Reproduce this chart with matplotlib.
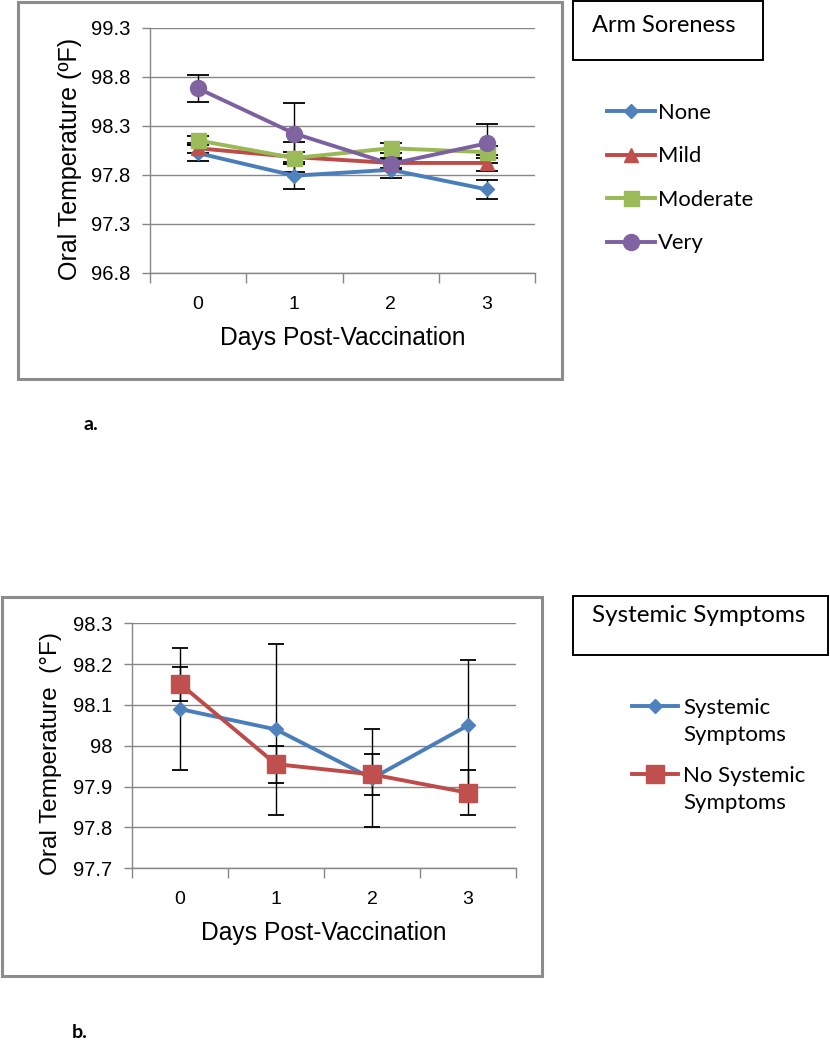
import matplotlib
matplotlib.use('Agg')
import matplotlib.pyplot as plt
from matplotlib.patches import Rectangle

# data
days = [0, 1, 2, 3]

# a. arm soreness groups
none_temp = [98.02, 97.79, 97.85, 97.65]
none_err = [0.08, 0.14, 0.08, 0.095]
mild_temp = [98.07, 97.98, 97.92, 97.92]
mild_err = [0.05, 0.15, 0.05, 0.08]
moderate_temp = [98.15, 97.97, 98.07, 98.03]
moderate_err = [0.05, 0.06, 0.05, 0.06]
very_temp = [98.68, 98.22, 97.91, 98.12]
very_err = [0.14, 0.31, 0.05, 0.20]

# b. systemic symptoms
sys_temp = [98.09, 98.04, 97.92, 98.05]
sys_err = [0.15, 0.21, 0.12, 0.16]
nosys_temp = [98.152, 97.955, 97.93, 97.885]
nosys_err = [0.042, 0.045, 0.05, 0.055]

top_yticks = [96.8, 97.3, 97.8, 98.3, 98.8, 99.3]
top_ylabels = ['96.8', '97.3', '97.8', '98.3', '98.8', '99.3']
bot_yticks = [97.7, 97.8, 97.9, 98.0, 98.1, 98.2, 98.3]
bot_ylabels = ['97.7', '97.8', '97.9', '98', '98.1', '98.2', '98.3']

W, H = 830, 1050
fig = plt.figure(figsize=(W / 100, H / 100), dpi=100)
fig.patch.set_facecolor('white')

AX_FONT = 'Liberation Sans'
LEG_FONT = 'Lato'
GRID = '#868686'


def fx(px):
    return px / W


def fy(py):
    return 1 - py / H


def frame(x0, y0, x1, y1, color, lw):
    fig.patches.append(Rectangle((fx(x0), fy(y1)), fx(x1) - fx(x0), fy(y0) - fy(y1),
                                 transform=fig.transFigure, fill=False,
                                 edgecolor=color, linewidth=lw, zorder=0))


def style_axes(ax, yticks, ylabels, xpad):
    ax.set_xlim(-0.5, 3.5)
    ax.set_ylim(yticks[0], yticks[-1])
    ax.set_yticks(yticks)
    ax.set_yticklabels(ylabels, fontsize=14.5, family=AX_FONT)
    ax.set_xticks(days)
    ax.set_xticklabels([str(d) for d in days], fontsize=14, family=AX_FONT)
    ax.set_xticks([-0.5, 0.5, 1.5, 2.5, 3.5], minor=True)
    ax.tick_params(axis='x', which='major', length=0, pad=xpad)
    ax.tick_params(axis='x', which='minor', length=7, color=GRID, width=1)
    ax.tick_params(axis='y', length=6, color=GRID, width=1, pad=8)
    for s in ['top', 'right']:
        ax.spines[s].set_visible(False)
    for s in ['left', 'bottom']:
        ax.spines[s].set_color(GRID)
        ax.spines[s].set_linewidth(1)
    ax.yaxis.grid(True, color=GRID, linewidth=1)
    ax.set_axisbelow(True)
    ax.set_xlabel('Days Post-Vaccination', fontsize=17.7, family=AX_FONT)


# ---------- a. ----------
frame(18, 2, 562, 379, '#8c8c8c', 2.2)
ax1 = fig.add_axes([fx(150), fy(272.7), fx(385), 245 / H])

series_a = [
    ('None', none_temp, none_err, '#4A7EBB', '#4F81BD', 'D', 7.6),
    ('Mild', mild_temp, mild_err, '#BE4B48', '#C0504D', '^', 10),
    ('Moderate', moderate_temp, moderate_err, '#98B954', '#9BBB59', 's', 10.8),
    ('Very', very_temp, very_err, '#7D60A0', '#8064A2', 'o', 11.5),
]
handles_a = []
for name, temp, err, lc, mc, mk, ms in series_a:
    ax1.errorbar(days, temp, yerr=err, fmt='none', ecolor='black', elinewidth=1,
                 capsize=8, capthick=1.3, zorder=2)
    ln, = ax1.plot(days, temp, color=lc, lw=2.8, marker=mk, markersize=ms,
                   markerfacecolor=mc, markeredgecolor=mc, label=name, zorder=3)
    handles_a.append(ln)

style_axes(ax1, top_yticks, top_ylabels, 17)
ax1.set_ylabel('Oral Temperature (ºF)', fontsize=18, family=AX_FONT)
ax1.yaxis.set_label_coords(-0.177, 0.464)
ax1.xaxis.set_label_coords(0.5, -0.218)

frame(573, 1, 763, 60, 'black', 1.4)
fig.text(fx(592), fy(26), 'Arm Soreness', fontsize=17, family=LEG_FONT,
         va='center', ha='left')
ax1.legend(handles=handles_a, loc='upper left', bbox_to_anchor=(fx(607), fy(103)),
           bbox_transform=fig.transFigure, frameon=False, prop={'family': LEG_FONT, 'size': 15.8},
           handlelength=2.19, handletextpad=0.14, labelspacing=1.07, borderpad=0,
           borderaxespad=0)

fig.text(fx(83), fy(425), 'a.', fontsize=14, family=LEG_FONT, fontweight='bold',
         va='center', ha='left')

# ---------- b. ----------
frame(2, 597, 542, 976, '#8c8c8c', 2.2)
ax2 = fig.add_axes([fx(132), fy(868.3), fx(384), 245 / H])

series_b = [
    ('Systemic', 'Symptoms', sys_temp, sys_err, '#4A7EBB', '#4F81BD', 'D', 7.6),
    ('No Systemic', 'Symptoms', nosys_temp, nosys_err, '#BE4B48', '#C0504D', 's', 12.5),
]
handles_b = []
for name, name2, temp, err, lc, mc, mk, ms in series_b:
    ax2.errorbar(days, temp, yerr=err, fmt='none', ecolor='black', elinewidth=1,
                 capsize=6, capthick=1.3, zorder=2)
    ln, = ax2.plot(days, temp, color=lc, lw=2.8, marker=mk, markersize=ms,
                   markerfacecolor=mc, markeredgecolor=mc, label=name, zorder=3)
    handles_b.append(ln)

style_axes(ax2, bot_yticks, bot_ylabels, 16)
ax2.set_ylabel('Oral Temperature  (°F)', fontsize=17.6, family=AX_FONT)
ax2.yaxis.set_label_coords(-0.182, 0.469)
ax2.xaxis.set_label_coords(0.5, -0.215)

frame(573, 596, 828, 655, 'black', 1.4)
fig.text(fx(592), fy(616), 'Systemic Symptoms', fontsize=17.5, family=LEG_FONT,
         va='center', ha='left')
leg_b = ax2.legend(handles=handles_b, loc='upper left', bbox_to_anchor=(fx(632), fy(698)),
                   bbox_transform=fig.transFigure, frameon=False,
                   prop={'family': LEG_FONT, 'size': 16},
                   handlelength=2.07, handletextpad=0.22, labelspacing=2.17, borderpad=0,
                   borderaxespad=0)

# second line of each legend label, placed under the first line like in the original
fig.canvas.draw()
for t, (_, name2, *_rest) in zip(leg_b.get_texts(), series_b):
    bb = t.get_window_extent()
    fig.text(bb.x0 / W, (0.5 * (bb.y0 + bb.y1) - 27) / H, name2, fontsize=16,
             family=LEG_FONT, va='center', ha='left')

fig.text(fx(72), fy(1032), 'b.', fontsize=14, family=LEG_FONT, fontweight='bold',
         va='center', ha='left')

fig.savefig('out.png', dpi=100, facecolor='white')
